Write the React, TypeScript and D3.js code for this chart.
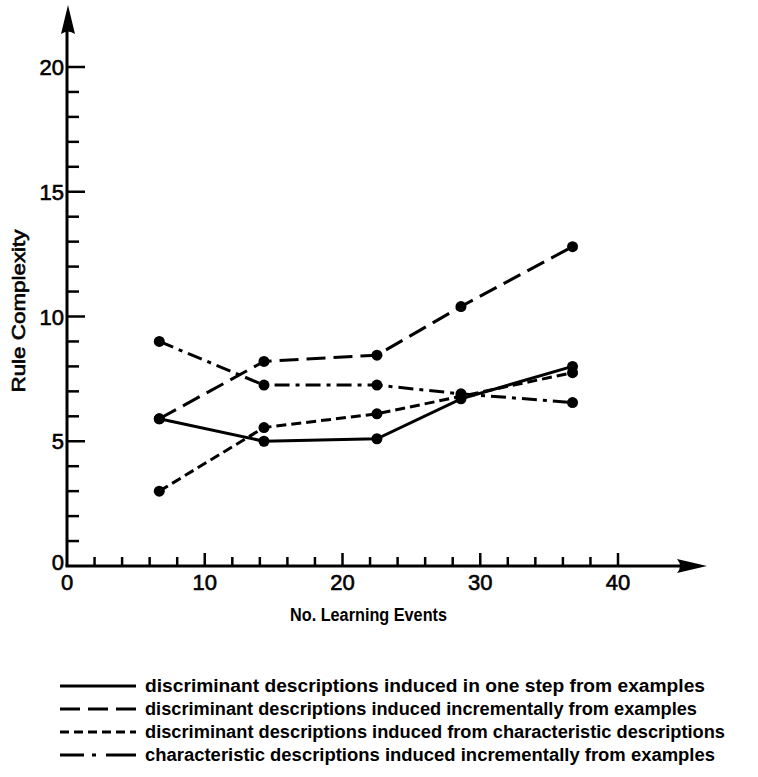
import React from "react";
import * as d3 from "d3";

const learningEvents = [6.7, 14.3, 22.5, 28.6, 36.7];
const oneStep = [5.9, 5.0, 5.1, 6.7, 8.0];
const incremental = [5.9, 8.2, 8.45, 10.4, 12.8];
const fromCharacteristic = [3.0, 5.55, 6.1, 6.8, 7.75];
const characteristicIncremental = [9.0, 7.25, 7.25, 6.9, 6.55];

const xTickLabels = [0, 10, 20, 30, 40];
const yTickLabels = [0, 5, 10, 15, 20];

const seriesNames = [
  "discriminant descriptions induced in one step from examples",
  "discriminant descriptions induced incrementally from examples",
  "discriminant descriptions induced  from characteristic descriptions",
  "characteristic descriptions induced incrementally from examples",
];

const series = [
  { name: seriesNames[0], values: oneStep, dash: "none" },
  { name: seriesNames[1], values: incremental, dash: "19 8" },
  { name: seriesNames[2], values: fromCharacteristic, dash: "10 5" },
  { name: seriesNames[3], values: characteristicIncremental, dash: "15 6 4 6" },
];

const FONT = "'Liberation Sans', Arial, sans-serif";

export default function App() {
  const width = 758;
  const height = 777;
  const x = d3.scaleLinear().domain([0, 40]).range([67, 618]);
  const y = d3.scaleLinear().domain([0, 20]).range([566, 67]);
  const x0 = x(0);
  const y0 = y(0);
  const xEnd = 707;
  const yEnd = 5;

  const line = d3
    .line<number>()
    .x((_, i) => x(learningEvents[i]))
    .y((d) => y(d));

  const yTicks = d3.range(1, 21);
  const xTicks = d3.range(2, 41, 2);

  const legendWidths = [560, 552, 580, 570];
  const legendLineDash = ["none", "20 8", "9 5", "none"];

  const heavy = { stroke: "#000", strokeWidth: 0.6 };

  return (
    <svg
      width={width}
      height={height}
      style={{ position: "absolute", left: 0, top: 0, background: "#fff" }}
    >
      <rect width={width} height={height} fill="#fff" />
      {/* axes */}
      <line x1={x0} y1={y0} x2={x0} y2={yEnd + 20} stroke="#000" strokeWidth={3} />
      <line x1={x0 - 1.5} y1={y0} x2={xEnd - 20} y2={y0} stroke="#000" strokeWidth={3} />
      <path
        d={`M${x0 + 1},${yEnd} L${x0 + 8},${yEnd + 29} Q${x0 + 1},${yEnd + 24} ${x0 - 6},${yEnd + 29} Z`}
        fill="#000"
      />
      <path
        d={`M${xEnd},${y0} L${xEnd - 30},${y0 - 7} Q${xEnd - 24},${y0} ${xEnd - 30},${y0 + 7} Z`}
        fill="#000"
      />
      {yTicks.map((t) => (
        <line
          key={"yt" + t}
          x1={x0}
          x2={x0 + (t % 5 === 0 ? 18 : 12)}
          y1={y(t)}
          y2={y(t)}
          stroke="#000"
          strokeWidth={2.5}
        />
      ))}
      {xTicks.map((t) => (
        <line
          key={"xt" + t}
          x1={x(t)}
          x2={x(t)}
          y1={y0}
          y2={y0 - (t % 10 === 0 ? 13 : 9)}
          stroke="#000"
          strokeWidth={2.5}
        />
      ))}
      {yTickLabels.map((t) => (
        <text
          key={"yl" + t}
          x={64}
          y={y(t) + (t === 0 ? 4 : 8)}
          textAnchor="end"
          fontFamily={FONT}
          fontSize={22}
          {...heavy}
        >
          {t}
        </text>
      ))}
      {xTickLabels.map((t) => (
        <text
          key={"xl" + t}
          x={x(t)}
          y={590}
          textAnchor="middle"
          fontFamily={FONT}
          fontSize={22}
          {...heavy}
        >
          {t}
        </text>
      ))}
      <text
        transform={`translate(25,311) rotate(-90)`}
        textAnchor="middle"
        fontFamily={FONT}
        fontSize={18}
        textLength={163}
        lengthAdjust="spacingAndGlyphs"
        {...heavy}
      >
        Rule Complexity
      </text>
      <text
        x={290}
        y={621}
        fontFamily={FONT}
        fontSize={18}
        fontWeight="bold"
        textLength={157}
        lengthAdjust="spacingAndGlyphs"
      >
        No. Learning Events
      </text>
      {/* series */}
      {series.map((s, i) => (
        <g key={"s" + i}>
          <path
            d={line(s.values) || ""}
            fill="none"
            stroke="#000"
            strokeWidth={3}
            strokeDasharray={s.dash}
          />
          {s.values.map((v, j) => (
            <circle key={j} cx={x(learningEvents[j])} cy={y(v)} r={5.5} fill="#000" />
          ))}
        </g>
      ))}
      {/* legend */}
      {series.map((s, i) => {
        const ly = 686 + i * 23;
        return (
          <g key={"lg" + i}>
            {i === 3 ? (
              <g>
                <line x1={60} x2={84} y1={ly} y2={ly} stroke="#000" strokeWidth={3} />
                <line x1={92} x2={96} y1={ly} y2={ly} stroke="#000" strokeWidth={3} />
                <line x1={106} x2={136} y1={ly} y2={ly} stroke="#000" strokeWidth={3} />
              </g>
            ) : (
              <line
                x1={60}
                x2={136}
                y1={ly}
                y2={ly}
                stroke="#000"
                strokeWidth={3}
                strokeDasharray={legendLineDash[i]}
              />
            )}
            <text
              x={145}
              y={ly + 6}
              fontFamily={FONT}
              fontSize={18}
              fontWeight="bold"
              textLength={legendWidths[i]}
              lengthAdjust="spacingAndGlyphs"
            >
              {s.name}
            </text>
          </g>
        );
      })}
    </svg>
  );
}
